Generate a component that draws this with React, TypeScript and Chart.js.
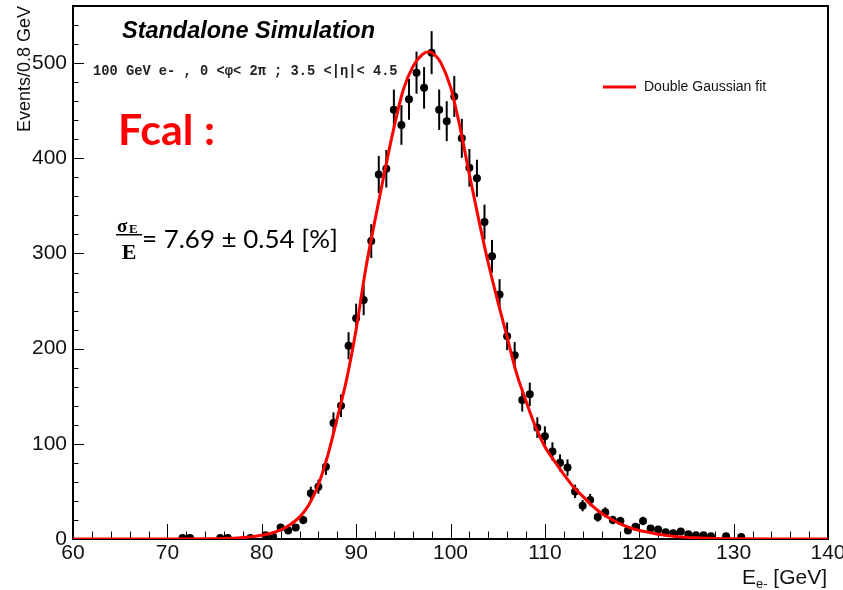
import { useEffect, useRef } from "react";
import { Chart, registerables } from "chart.js";

Chart.register(...registerables);

// Histogram bin centres (GeV) and counts per 0.8 GeV bin
const binCenters = [
  71.6, 72.4, 75.6, 76.4, 78.8, 80.4, 81.2, 82.0, 82.8, 83.6, 84.4, 85.2, 86.0, 86.8, 87.6, 88.4,
  89.2, 90.0, 90.8, 91.6, 92.4, 93.2, 94.0, 94.8, 95.6, 96.4, 97.2, 98.0, 98.8, 99.6, 100.4, 101.2,
  102.0, 102.8, 103.6, 104.4, 105.2, 106.0, 106.8, 107.6, 108.4, 109.2, 110.0, 110.8, 111.6, 112.4,
  113.2, 114.0, 114.8, 115.6, 116.4, 117.2, 118.0, 118.8, 119.6, 120.4, 121.2, 122.0, 122.8, 123.6,
  124.4, 125.2, 126.0, 126.8, 127.6, 129.2, 130.8,
];
const binCounts = [
  1, 1, 1, 1, 1, 4, 3, 12, 9, 12, 20, 48, 55, 76, 122, 140,
  203, 232, 251, 313, 383, 389, 451, 435, 462, 490, 474, 511, 451, 439, 465, 421,
  390, 379, 333, 297, 257, 213, 193, 146, 152, 117, 108, 92, 80, 75,
  50, 35, 41, 23, 28, 20, 19, 9, 13, 19, 11, 10, 7, 6,
  8, 5, 4, 4, 3, 3, 2,
];

// Double Gaussian fit curve
const fitX = [
  60, 70, 75, 77, 78, 79, 80, 81, 82, 83, 84, 85, 86, 87, 88, 89, 90, 91, 92, 93, 94, 95, 96, 97,
  97.7, 98.5, 99, 100, 101, 102, 103, 104, 105, 106, 107, 108, 109, 110, 111, 112, 113, 114, 115,
  116, 117, 118, 119, 120, 121, 122, 124, 126, 128, 130, 135, 140,
];
const fitY = [
  0, 0, 0.2, 0.8, 1.5, 2.5, 4, 6, 9.5, 15, 23, 36, 57, 88, 127, 168, 220, 283, 335, 385, 432, 472, 496, 509,
  512, 507, 500, 475, 433, 383, 335, 290, 250, 212, 174, 145, 118, 97, 82, 68, 55, 45, 35,
  27, 21, 16, 12, 9, 7, 5, 2.5, 1.2, 0.5, 0.2, 0, 0,
];

const xTickLabels = ["60", "70", "80", "90", "100", "110", "120", "130", "140"];
const yTickLabels = ["0", "100", "200", "300", "400", "500"];

const fitLabel = "Double Gaussian fit";
const titleText = "Standalone Simulation";
const subTitleText = "100 GeV e- , 0 <\u03c6< 2\u03c0 ; 3.5 <|\u03b7|< 4.5";
const fcalText = "Fcal :";
const resolutionText = "= 7.69 \u00b1 0.54 [%]";
const yTitle = "Events/0.8 GeV";

const SANS = '"Liberation Sans", Arial, sans-serif';

const rootAxes = {
  id: "rootAxes",
  beforeDatasetsDraw(chart: any) {
    const { ctx, chartArea: a, scales } = chart;
    const x = scales.x;
    const y = scales.y;
    ctx.save();
    ctx.strokeStyle = "#000";
    ctx.lineWidth = 1;
    // x ticks (inward), minor 5 subdivisions
    const xt = x.ticks.map((t: any) => t.value);
    for (let i = 0; i < xt.length; i++) {
      const px = Math.round(x.getPixelForValue(xt[i])) + 0.5;
      ctx.beginPath();
      ctx.moveTo(px, a.bottom);
      ctx.lineTo(px, a.bottom - 15);
      ctx.stroke();
      if (i < xt.length - 1) {
        const step = (xt[i + 1] - xt[i]) / 5;
        for (let k = 1; k < 5; k++) {
          const mx = Math.round(x.getPixelForValue(xt[i] + k * step)) + 0.5;
          ctx.beginPath();
          ctx.moveTo(mx, a.bottom);
          ctx.lineTo(mx, a.bottom - 7.5);
          ctx.stroke();
        }
      }
    }
    // y ticks
    const yt = y.ticks.map((t: any) => t.value);
    const ystep = yt.length > 1 ? (yt[1] - yt[0]) / 5 : 20;
    for (let v = yt[0]; v <= y.max + 1e-6; v += ystep) {
      const py = Math.round(y.getPixelForValue(v)) + 0.5;
      const major = Math.abs(v / (ystep * 5) - Math.round(v / (ystep * 5))) < 1e-6;
      ctx.beginPath();
      ctx.moveTo(a.left, py);
      ctx.lineTo(a.left + (major ? 11 : 5.5), py);
      ctx.stroke();
    }
    // frame
    ctx.lineWidth = 2;
    ctx.strokeRect(a.left, a.top, a.right - a.left, a.bottom - a.top);
    ctx.restore();
  },
};

const errorBars = {
  id: "errorBars",
  beforeDatasetsDraw(chart: any) {
    const { ctx, scales } = chart;
    const y = scales.y;
    const meta = chart.getDatasetMeta(1);
    const ds = chart.data.datasets[1];
    ctx.save();
    ctx.strokeStyle = "#000";
    ctx.lineWidth = 2;
    meta.data.forEach((el: any, i: number) => {
      const v = ds.data[i].y;
      const e = Math.sqrt(v);
      ctx.beginPath();
      ctx.moveTo(el.x, y.getPixelForValue(v + e));
      ctx.lineTo(el.x, y.getPixelForValue(Math.max(0, v - e)));
      ctx.stroke();
    });
    ctx.restore();
  },
};

function fitFont(ctx: CanvasRenderingContext2D, text: string, tpl: (s: number) => string, base: number, target: number) {
  ctx.font = tpl(base);
  const w = ctx.measureText(text).width;
  const s = (base * target) / w;
  ctx.font = tpl(s);
  return s;
}

const annotations = {
  id: "annotations",
  afterDraw(chart: any) {
    const { ctx, chartArea: a } = chart;
    ctx.save();
    ctx.textBaseline = "alphabetic";
    ctx.textAlign = "left";

    // Title
    ctx.fillStyle = "#000";
    fitFont(ctx, titleText, (s) => `italic bold ${s}px ${SANS}`, 22, 253);
    ctx.fillText(titleText, 122, 38);

    // Subtitle (monospace)
    ctx.fillStyle = "#222";
    fitFont(ctx, subTitleText, (s) => `bold ${s}px "Liberation Mono", monospace`, 12, 305);
    ctx.fillText(subTitleText, 93, 75);

    // Legend
    ctx.strokeStyle = "#ff0000";
    ctx.lineWidth = 3;
    ctx.beginPath();
    ctx.moveTo(603, 87);
    ctx.lineTo(636, 87);
    ctx.stroke();
    ctx.fillStyle = "#111";
    ctx.font = `14px ${SANS}`;
    ctx.textBaseline = "middle";
    ctx.fillText(fitLabel, 644, 87);
    ctx.textBaseline = "alphabetic";

    // Fcal :
    ctx.fillStyle = "#ff0000";
    fitFont(ctx, fcalText, (s) => `bold ${s}px Lato, sans-serif`, 44, 97);
    ctx.fillText(fcalText, 118, 145);

    // sigma_E / E
    ctx.fillStyle = "#000";
    ctx.font = `bold 19px "Liberation Serif", serif`;
    ctx.fillText("\u03c3", 117, 232);
    ctx.font = `bold 13px "Liberation Serif", serif`;
    ctx.fillText("E", 129, 233);
    ctx.fillRect(116, 234, 26, 1.5);
    ctx.font = `bold 22px "Liberation Serif", serif`;
    ctx.textAlign = "center";
    ctx.fillText("E", 129, 259);
    ctx.textAlign = "left";
    fitFont(ctx, resolutionText, (s) => `${s}px Lato, sans-serif`, 27, 196);
    ctx.fillText(resolutionText, 142, 248);

    // Y axis title
    ctx.fillStyle = "#111";
    ctx.save();
    ctx.translate(30, a.top);
    ctx.rotate(-Math.PI / 2);
    ctx.textAlign = "right";
    ctx.font = `18px ${SANS}`;
    ctx.fillText(yTitle, 0, 0);
    ctx.restore();

    // X axis title: E_{e-} [GeV]
    ctx.font = `21px ${SANS}`;
    const wE = ctx.measureText("E").width;
    const wG = ctx.measureText(" [GeV]").width;
    ctx.font = `13px ${SANS}`;
    const wS = ctx.measureText("e-").width;
    const right = a.right - 1;
    let xx = right - wE - wS - wG;
    const base = 584;
    ctx.font = `21px ${SANS}`;
    ctx.fillText("E", xx, base);
    xx += wE;
    ctx.font = `13px ${SANS}`;
    ctx.fillText("e-", xx, base + 4);
    xx += wS;
    ctx.font = `21px ${SANS}`;
    ctx.fillText(" [GeV]", xx, base);

    ctx.restore();
  },
};

export default function App() {
  const ref = useRef<HTMLCanvasElement | null>(null);
  useEffect(() => {
    if (!ref.current) return;
    const chart = new Chart(ref.current, {
      type: "scatter",
      data: {
        datasets: [
          {
            type: "line",
            label: fitLabel,
            data: fitX.map((x, i) => ({ x, y: fitY[i] })),
            borderColor: "#ff0000",
            backgroundColor: "#ff0000",
            borderWidth: 3,
            pointRadius: 0,
            fill: false,
            cubicInterpolationMode: "monotone",
          } as any,
          {
            type: "scatter",
            label: "data",
            data: binCenters.map((x, i) => ({ x, y: binCounts[i] })),
            backgroundColor: "#000",
            borderColor: "#000",
            borderWidth: 0,
            pointRadius: 4,
            pointHoverRadius: 4,
          },
        ],
      },
      options: {
        animation: false,
        responsive: false,
        devicePixelRatio: 1,
        layout: { padding: { left: 0, right: 15, top: 6, bottom: 0 } },
        plugins: {
          legend: { display: false },
          tooltip: { enabled: false },
          title: { display: false },
        },
        scales: {
          x: {
            type: "linear",
            min: 60,
            max: 140,
            grid: { display: false, drawTicks: false },
            border: { display: false },
            ticks: {
              stepSize: 10,
              includeBounds: false,
              autoSkip: false,
              maxRotation: 0,
              padding: 2,
              color: "#111",
              font: { family: SANS, size: 21 },
              callback: (_v: any, i: number) => xTickLabels[i],
            },
            afterFit: (s: any) => {
              s.height = 51;
              s.paddingLeft = 0;
              s.paddingRight = 0;
            },
          },
          y: {
            type: "linear",
            min: 0,
            max: 560,
            grid: { display: false, drawTicks: false },
            border: { display: false },
            ticks: {
              stepSize: 100,
              includeBounds: false,
              padding: 6,
              color: "#111",
              font: { family: SANS, size: 21 },
              callback: (_v: any, i: number) => yTickLabels[i],
            },
            afterFit: (s: any) => {
              s.width = 73;
              s.paddingTop = 0;
              s.paddingBottom = 0;
            },
          },
        },
      },
      plugins: [rootAxes, errorBars, annotations],
    });
    return () => chart.destroy();
  }, []);
  return (
    <div style={{ position: "absolute", left: 0, top: 0, width: 843, height: 590, background: "#fff" }}>
      <canvas ref={ref} width={843} height={590} />
    </div>
  );
}
